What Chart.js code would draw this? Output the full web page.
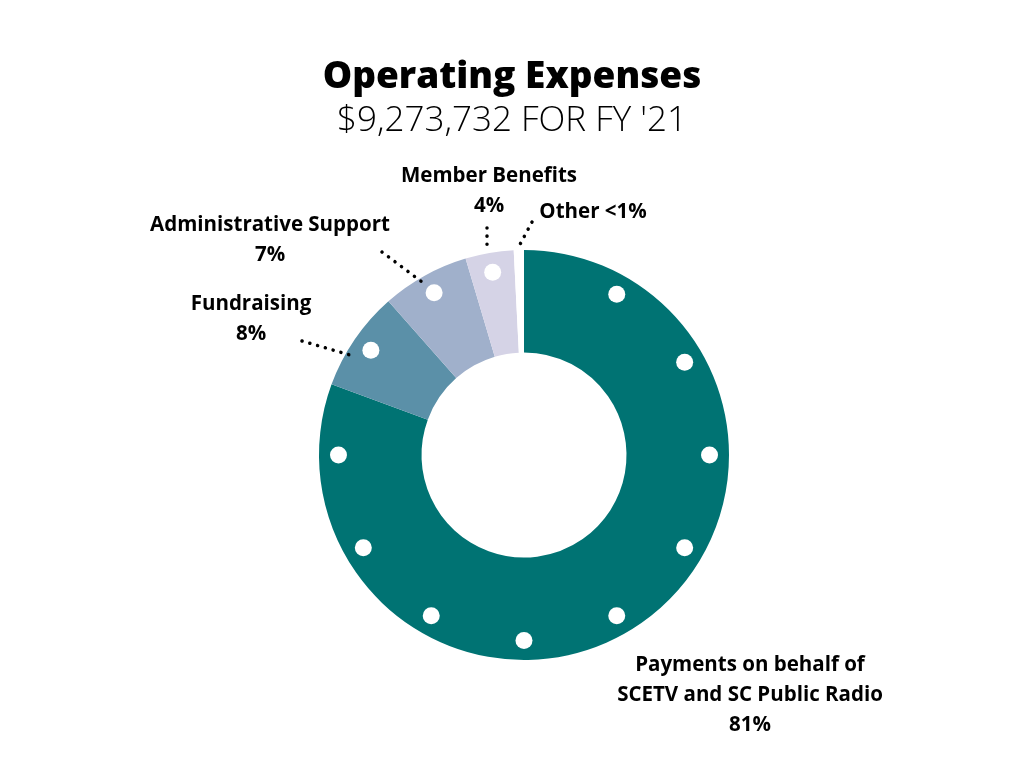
<!DOCTYPE html>
<html><head><meta charset="utf-8">
<script src="https://cdn.jsdelivr.net/npm/chart.js"></script>
<style>html,body{margin:0;padding:0;background:#fff}#w{width:1024px;height:768px}</style>
</head><body><div id="w"><canvas id="c"></canvas></div>
<script>
const categories = ["Payments on behalf of SCETV and SC Public Radio","Fundraising","Administrative Support","Member Benefits","Other"];
const values = [80.6, 7.9, 6.9, 3.8, 0.8];
const pctLabels = ["81%","8%","7%","4%","<1%"];
const colors = ["#007373","#5b90a8","#a0b0cb","#d5d3e6","#ffffff"];

const deco = {
  id:'deco',
  afterDraw(chart){
    const ctx = chart.ctx;
    const arcs = chart.getDatasetMeta(0).data;
    const a0 = arcs[0];
    const cx = a0.x, cy = a0.y, R = a0.outerRadius*0.905;
    ctx.save();
    ctx.fillStyle = '#fff';
    const dot = (ang)=>{ctx.beginPath();ctx.arc(cx+R*Math.cos(ang),cy+R*Math.sin(ang),8.5,0,Math.PI*2);ctx.fill();};
    const step = Math.PI/6;
    for(let ang=a0.startAngle+step; ang<a0.endAngle-0.1; ang+=step) dot(ang);
    for(let i=1;i<4;i++){const a=arcs[i];dot((a.startAngle+a.endAngle)/2);}
    ctx.fillStyle='#000';ctx.textAlign='center';ctx.textBaseline='alphabetic';
    ctx.font='800 37px "Open Sans", sans-serif';
    ctx.fillText('Operating Expenses',512,88);
    ctx.font='300 35px "Open Sans", sans-serif';
    ctx.fillText("$9,273,732 FOR FY '21",512,131);
    ctx.strokeStyle='#000';ctx.lineWidth=3.5;ctx.lineCap='round';ctx.setLineDash([0.1,8]);
    const line=(x1,y1,x2,y2)=>{ctx.beginPath();ctx.moveTo(x1,y1);ctx.lineTo(x2,y2);ctx.stroke();};
    line(302,341,350,355); line(382,252,422,282); line(487,228,487,250); line(532,222,517,250);
    ctx.setLineDash([]);
    ctx.font='bold 20.5px "Open Sans", sans-serif';
    const txt=(lines,x,y)=>lines.forEach((s,i)=>ctx.fillText(s,x,y+i*30));
    txt([categories[3],pctLabels[3]],489,182);
    ctx.fillText(categories[4]+' '+pctLabels[4],593,218);
    txt([categories[2],pctLabels[2]],270,231);
    txt([categories[1],pctLabels[1]],251,310);
    txt(['Payments on behalf of','SCETV and SC Public Radio',pctLabels[0]],750,671);
    ctx.restore();
  }
};

new Chart(document.getElementById('c'),{
  type:'doughnut',
  data:{labels:categories,datasets:[{data:values,backgroundColor:colors,borderWidth:0}]},
  options:{responsive:true,maintainAspectRatio:false,animation:false,cutout:'50%',
    layout:{padding:{top:250,bottom:108,left:24,right:0}},
    plugins:{legend:{display:false},tooltip:{enabled:false}}},
  plugins:[deco]
});
</script></body></html>
